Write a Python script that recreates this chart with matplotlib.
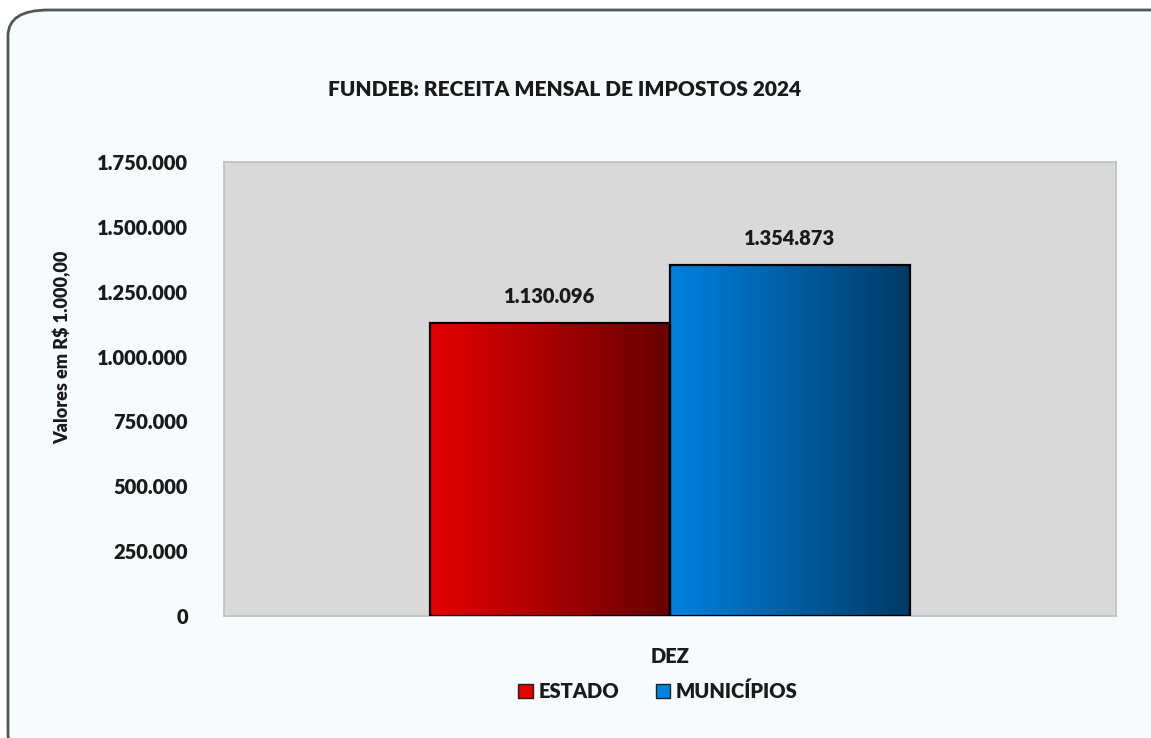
import numpy as np
import matplotlib
matplotlib.use('Agg')
import matplotlib.pyplot as plt
from matplotlib.patches import FancyBboxPatch
from matplotlib.colors import LinearSegmentedColormap

PESO = 800
plt.rcParams['font.family'] = ['Lato', 'DejaVu Sans']
plt.rcParams['font.weight'] = PESO

# dados
categoria = 'DEZ'
series = ['ESTADO', 'MUNICÍPIOS']
valores = [1130096, 1354873]
cores_ini = ['#e60000', '#0082e0']
cores_fim = ['#660000', '#003a66']
yticks = [0, 250000, 500000, 750000, 1000000, 1250000, 1500000, 1750000]

def fmt(v):
    return '{:,.0f}'.format(v).replace(',', '.')

fig = plt.figure(figsize=(11.51, 7.38), dpi=100)
fig.patch.set_facecolor('white')

# moldura arredondada
W, H = 1151, 738
moldura = FancyBboxPatch((8 / W, (H - 760) / H), 1190 / W, 750 / H,
                         boxstyle='round,pad=0,rounding_size=0.035',
                         transform=fig.transFigure, facecolor='#f6fbfe',
                         edgecolor='#555555', linewidth=2, clip_on=False, zorder=-5)
fig.patches.append(moldura)

ax = fig.add_axes([224 / W, 1 - 616 / H, 892 / W, 454 / H])
ax.set_zorder(2)
ax.set_facecolor('#d9d9d9')
for s in ax.spines.values():
    s.set_color('#bfbfbf')
    s.set_linewidth(1.2)

larg = 0.269
xs = [-larg / 2, larg / 2]
grad = np.linspace(0, 1, 256).reshape(1, -1)
handles = []
for x, v, c0, c1, nome in zip(xs, valores, cores_ini, cores_fim, series):
    b = ax.bar(x, v, width=larg, facecolor='none', edgecolor='black',
               linewidth=1.6, zorder=3, label=nome)[0]
    cmap = LinearSegmentedColormap.from_list(nome, [c0, c1])
    im = ax.imshow(grad, cmap=cmap, aspect='auto', zorder=2,
                   extent=[x - larg / 2, x + larg / 2, 0, v])
    im.set_clip_path(b)
    ax.text(x, v + 100000, fmt(v), ha='center', va='center',
            fontsize=14.5, fontweight=PESO, color='#1a1a1a', zorder=4)
    h = plt.Rectangle((0, 0), 1, 1, facecolor=c0, edgecolor='#222222')
    handles.append(h)

ax.set_xlim(-0.5, 0.5)
ax.set_ylim(0, 1750000)
ax.set_yticks(yticks)
ax.set_yticklabels([fmt(t) for t in yticks])
ax.set_xticks([0])
ax.set_xticklabels([categoria])
ax.tick_params(length=0, labelsize=14.5, labelcolor='#1a1a1a')
ax.tick_params(axis='y', pad=26)
ax.tick_params(axis='x', pad=22)
for lb in ax.get_xticklabels() + ax.get_yticklabels():
    lb.set_fontweight(PESO)

fig.text(62 / W, 1 - 347 / H, 'Valores em R$ 1.000,00', rotation=90,
         ha='center', va='center', fontsize=13, fontweight=PESO, color='#1a1a1a')
fig.text(565 / W, 1 - 90 / H, 'FUNDEB: RECEITA MENSAL DE IMPOSTOS 2024',
         ha='center', va='center', fontsize=15, fontweight=PESO, color='#1a1a1a')

leg = fig.legend(handles, series, loc='center', bbox_to_anchor=(658 / W, 1 - 691 / H),
                 ncol=2, frameon=False, handlelength=0.7,
                 handleheight=0.7, handletextpad=0.3, columnspacing=1.8,
                 prop={'weight': PESO, 'size': 14.5})
for t in leg.get_texts():
    t.set_color('#1a1a1a')

fig.savefig('out.png', dpi=100, facecolor='white')
